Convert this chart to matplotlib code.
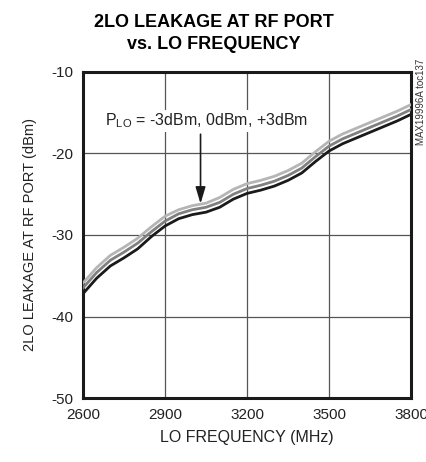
import matplotlib.pyplot as plt
from matplotlib import font_manager

# data
freq = [2600, 2650, 2700, 2750, 2800, 2850, 2900, 2950, 3000, 3050, 3100, 3150, 3200,
        3250, 3300, 3350, 3400, 3450, 3500, 3550, 3600, 3650, 3700, 3750, 3800]
plo_m3 = [-37.2, -35.3, -33.8, -32.8, -31.7, -30.2, -28.9, -28.0, -27.5, -27.2, -26.6, -25.6, -24.9,
          -24.5, -24.0, -23.3, -22.4, -21.0, -19.7, -18.8, -18.1, -17.4, -16.7, -16.0, -15.2]
plo_0 = [-36.5, -34.6, -33.1, -32.1, -31.0, -29.6, -28.3, -27.4, -26.9, -26.6, -26.0, -25.0, -24.3,
         -23.9, -23.4, -22.7, -21.8, -20.4, -19.1, -18.2, -17.5, -16.8, -16.1, -15.4, -14.6]
plo_p3 = [-35.9, -34.0, -32.5, -31.5, -30.4, -29.0, -27.7, -26.9, -26.4, -26.1, -25.4, -24.4, -23.7,
          -23.3, -22.8, -22.1, -21.2, -19.8, -18.5, -17.6, -16.9, -16.2, -15.5, -14.8, -14.0]
xticks = [2600, 2900, 3200, 3500, 3800]
yticks = [-50, -40, -30, -20, -10]

names = {f.name for f in font_manager.fontManager.ttflist}
fam = ['Liberation Sans Narrow', 'DejaVu Sans'] if 'Liberation Sans Narrow' in names else ['Liberation Sans', 'DejaVu Sans']
plt.rcParams['font.family'] = fam
plt.rcParams['axes.unicode_minus'] = False

fig = plt.figure(figsize=(4.27, 4.62), dpi=100)
ax = fig.add_axes([0.1944, 0.1385, 0.7681, 0.7057])

ax.plot(freq, plo_m3, color='#1a1a1a', lw=2.0, zorder=3)
ax.plot(freq, plo_0, color='#808080', lw=2.0, zorder=3)
ax.plot(freq, plo_p3, color='#b5b5b5', lw=2.0, zorder=3)

ax.set_xlim(2600, 3800)
ax.set_ylim(-50, -10)
ax.set_xticks(xticks)
ax.set_yticks(yticks)
ax.tick_params(length=0, labelsize=11, pad=7, colors='#222222')
ax.grid(True, color='#555555', lw=0.9)
for s in ax.spines.values():
    s.set_linewidth(2.2)
    s.set_color('#1a1a1a')

ax.set_xlabel('LO FREQUENCY (MHz)', fontsize=11.5, labelpad=6, color='#222222')
ax.set_ylabel('2LO LEAKAGE AT RF PORT (dBm)', fontsize=10.5, labelpad=10, color='#222222')
fig.text(0.5, 0.928, '2LO LEAKAGE AT RF PORT\nvs. LO FREQUENCY', ha='center', va='center',
         fontsize=13, fontweight='bold', linespacing=1.35)

ax.text(2680, -16.0, r'P$_{\mathregular{LO}}$ = -3dBm, 0dBm, +3dBm', fontsize=11.5,
        va='center', ha='left', color='#222222',
        bbox=dict(facecolor='white', edgecolor='none', pad=1))
ax.annotate('', xy=(3030, -26.5), xytext=(3030, -17.3),
            arrowprops=dict(arrowstyle='-|>,head_width=0.3,head_length=1.0', color='#1a1a1a', lw=1.2))

fig.text(0.985, 0.78, 'MAX19996A toc137', rotation=90, fontsize=7, ha='center', va='center', color='#333333')

fig.savefig('out.png', dpi=100)
